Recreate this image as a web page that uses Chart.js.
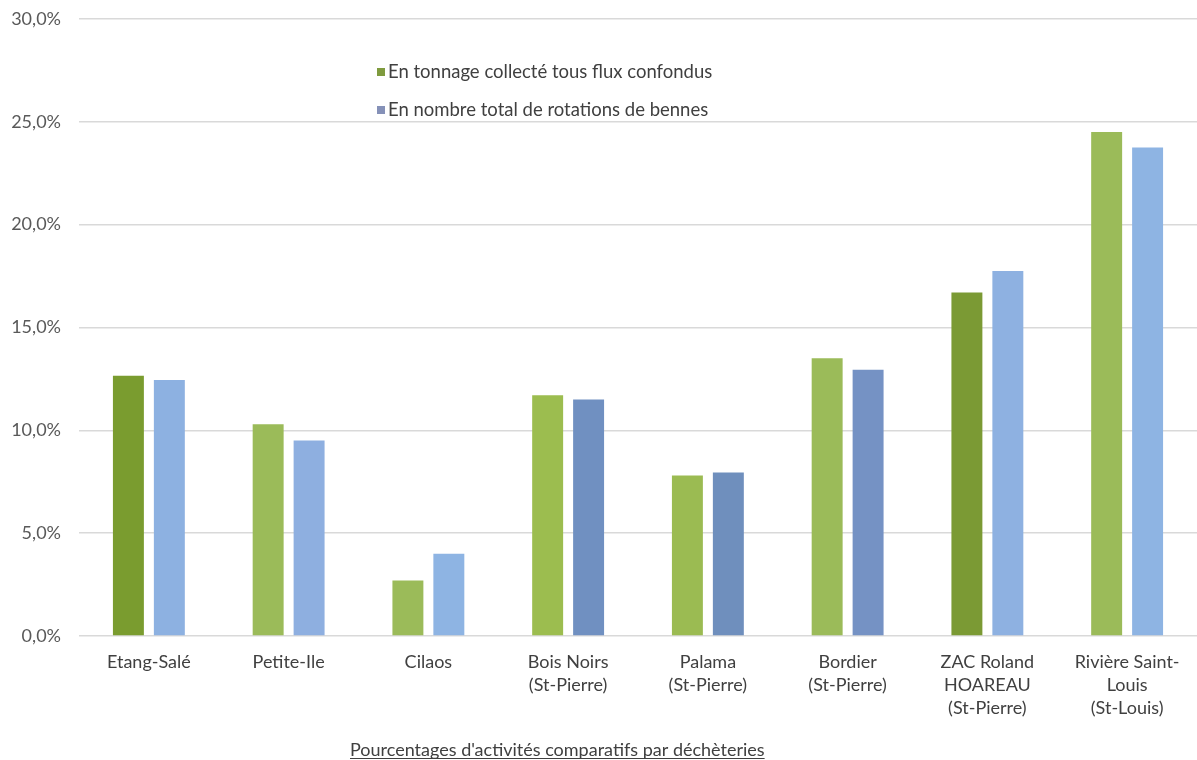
<!DOCTYPE html>
<html><head><meta charset="utf-8">
<script src="https://cdn.jsdelivr.net/npm/chart.js@4.4.1/dist/chart.umd.min.js"></script>
<style>html,body{margin:0;padding:0;background:#fff}#wrap{width:1197px;height:760px;position:relative}</style>
</head><body><div id="wrap"><canvas id="c" width="1197" height="760"></canvas></div>
<script>
const categories = [
  ["Etang-Salé"], ["Petite-Ile"], ["Cilaos"], ["Bois Noirs", "(St-Pierre)"],
  ["Palama", "(St-Pierre)"], ["Bordier", "(St-Pierre)"],
  ["ZAC Roland", "HOAREAU", "(St-Pierre)"], ["Rivière Saint-", "Louis", "(St-Louis)"]
];
const seriesNames = ["En tonnage collecté tous flux confondus", "En nombre total de rotations de bennes"];
const tonnage = [12.65, 10.3, 2.7, 11.7, 7.8, 13.5, 16.7, 24.5];
const rotations = [12.45, 9.5, 4.0, 11.5, 7.95, 12.95, 17.75, 23.75];
const yTicks = [0, 5, 10, 15, 20, 25, 30];
const xTitle = "Pourcentages d'activités comparatifs par déchèteries";

const greenColors = ["#7a9c2f","#9bbb59","#9bbb59","#9cbd4f","#9bbb52","#9bbb59","#7b9a34","#9bbb59"];
const blueColors = ["#8db1e1","#8eafe0","#8eb4e3","#7090c1","#6f8fbd","#7592c4","#8eb1e1","#8eb4e3"];
const FONT = "'Lato', sans-serif";

const overlay = {
  id: 'overlay',
  afterDraw(chart) {
    const ctx = chart.ctx;
    ctx.save();
    const items = [["#7f9b3e", seriesNames[0], 72], ["#8591b8", seriesNames[1], 110]];
    items.forEach(([sq, t, y]) => {
      ctx.fillStyle = sq;
      ctx.fillRect(377, y - 4, 8, 8);
      ctx.fillStyle = '#404040';
      ctx.font = "18.5px " + FONT;
      ctx.textBaseline = 'middle';
      ctx.textAlign = 'left';
      ctx.fillText(t, 388, y);
    });
    ctx.font = "18px " + FONT;
    ctx.fillStyle = '#404040';
    ctx.textAlign = 'left';
    ctx.textBaseline = 'alphabetic';
    const x0 = 350, cy = 756;
    ctx.fillText(xTitle, x0, cy);
    const w = ctx.measureText(xTitle).width;
    ctx.strokeStyle = '#404040';
    ctx.lineWidth = 1;
    ctx.beginPath();
    ctx.moveTo(x0, cy + 2.5);
    ctx.lineTo(x0 + w, cy + 2.5);
    ctx.stroke();
    ctx.restore();
  }
};

new Chart(document.getElementById('c'), {
  type: 'bar',
  data: {
    labels: categories,
    datasets: [
      { label: seriesNames[0], data: tonnage, backgroundColor: greenColors, categoryPercentage: 0.586, barPercentage: 0.756 },
      { label: seriesNames[1], data: rotations, backgroundColor: blueColors, categoryPercentage: 0.586, barPercentage: 0.756 }
    ]
  },
  plugins: [overlay],
  options: {
    responsive: false,
    animation: false,
    layout: { padding: { top: 19, right: 0, left: 0, bottom: 0 } },
    plugins: { legend: { display: false }, tooltip: { enabled: false } },
    scales: {
      x: {
        grid: { display: false, drawTicks: false },
        border: { display: false },
        ticks: { color: '#404040', font: { family: FONT, size: 18, lineHeight: 1.28 }, padding: 15, maxRotation: 0, autoSkip: false },
        afterFit(s) { s.height = 124; s.paddingLeft = 0; s.paddingRight = 0; }
      },
      y: {
        min: 0, max: 30,
        afterBuildTicks(s) { s.ticks = yTicks.map(v => ({ value: v })); },
        grid: { color: '#d9d9d9', lineWidth: 1.5, drawTicks: false },
        border: { display: false },
        ticks: {
          color: '#595959', font: { family: FONT, size: 18 }, padding: 18,
          callback: v => v.toFixed(1).replace('.', ',') + '%'
        },
        afterFit(s) { s.width = 79; s.paddingTop = 0; s.paddingBottom = 0; }
      }
    }
  }
});
</script></body></html>
